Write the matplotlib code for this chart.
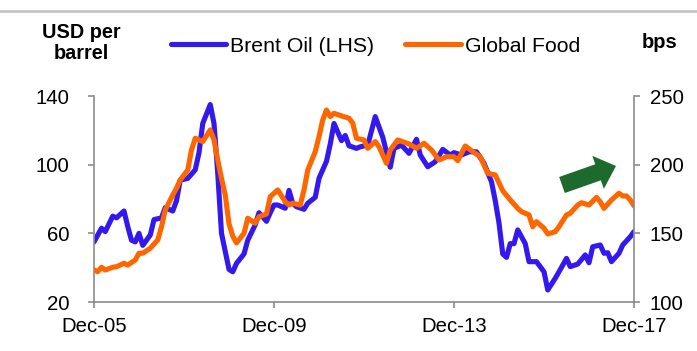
import matplotlib
matplotlib.use("Agg")
import matplotlib.pyplot as plt
from matplotlib.lines import Line2D
from matplotlib.patches import FancyArrow
from matplotlib.transforms import IdentityTransform

plt.rcParams['font.family'] = ['Liberation Sans', 'DejaVu Sans']

# months since Dec-05
oil_month = [0, 2, 3, 5, 6, 8, 9, 10, 11, 12,
             13, 15, 16, 18, 19, 21, 22, 23, 25, 27,
             28, 29, 31, 32, 33, 34, 36, 37, 38, 40,
             41, 43, 44, 46, 47, 48, 49, 51, 52, 53,
             54, 56, 57, 59, 60, 62, 63, 64, 66, 67,
             68, 70, 71, 73, 75, 77, 79, 80, 82, 84,
             86, 87, 89, 91, 93, 95, 96, 98, 100, 102,
             104, 106, 107, 108, 109, 110, 111, 112, 113, 115,
             116, 118, 120, 121, 123, 124, 126, 127, 129, 131,
             132, 133, 135, 136, 137, 138, 140, 141, 143, 144]
# Brent oil, USD per barrel (LHS)
oil_usd = [55, 63, 61, 70, 69, 73, 64, 56, 55, 60,
           53, 59, 68, 69, 75, 73, 79, 91, 92, 97,
           107, 124, 135, 124, 95, 60, 39, 37.6, 42.5, 48,
           56, 65, 72, 67, 72, 76.5, 76.5, 74.6, 85, 77.5,
           75.5, 74, 77.5, 81, 92, 102, 112, 124, 114, 117,
           111, 109.5, 110.4, 111.4, 128, 116, 98.5, 109.5, 111.4, 106.6,
           114.8, 105.6, 98.8, 101.7, 108.9, 105.6, 107, 105.6, 107.5, 107.5,
           100.8, 90, 79, 66, 48, 46, 54, 54, 62, 54,
           43.5, 43.5, 37.6, 27, 33.8, 37.6, 45.4, 40.6, 42.1, 47.4,
           42.9, 52.2, 53.2, 48.4, 48.7, 43.5, 48.4, 53.2, 58, 61]

food_month = [0, 1, 2, 3, 5, 6, 8, 9, 11, 12,
              13, 15, 17, 18, 19, 21, 22, 23, 25, 26,
              27, 29, 31, 32, 33, 34, 35, 36, 37, 38,
              40, 41, 43, 44, 46, 47, 49, 51, 52, 53,
              55, 56, 57, 59, 60, 61, 62, 63, 64, 66,
              68, 69, 70, 72, 73, 75, 76, 78, 79, 81,
              84, 86, 88, 90, 92, 94, 96, 97, 99, 101,
              103, 105, 107, 109, 111, 113, 114, 116, 117, 118,
              120, 121, 123, 124, 126, 127, 129, 130, 132, 134,
              135, 136, 138, 140, 141, 142, 143, 144]
# Global food, bps (RHS)
food_bps = [123.3, 122.1, 125.3, 123.3, 125.3, 125.7, 128.2, 126.9, 130.6, 135.5,
            135.5, 139.1, 145.2, 154.8, 167, 177.9, 182.8, 188.9, 196.1, 210.7,
            219.2, 216.8, 225.3, 218, 203.4, 190, 178, 157, 148, 143,
            150, 161, 157.3, 162.1, 164.1, 176.7, 181.6, 173, 170.6, 171.9,
            170.6, 181.6, 196.1, 209.5, 220.4, 232.6, 239.8, 235, 237.4, 235.5,
            233.8, 230.2, 219.2, 218, 211.9, 216.8, 213.1, 201, 210.7, 218,
            215.1, 211.9, 215.6, 210.7, 203.4, 205.8, 205.8, 202.9, 213.6, 209.5,
            205.8, 193.7, 192.5, 181, 174.3, 168.2, 165.8, 163.4, 154.8, 158.5,
            153.7, 149.5, 151.2, 154.8, 163.4, 164.6, 170.6, 172.3, 170.6, 176.2,
            173, 168.2, 174.3, 179.2, 177.2, 177.2, 174.3, 170]

x_ticks = [0, 48, 96, 144]
x_labels = ['Dec-05', 'Dec-09', 'Dec-13', 'Dec-17']
left_ticks = [20, 60, 100, 140]
right_ticks = [100, 150, 200, 250]

blue = '#3319ee'
orange = '#ff6600'
grey = '#8c8c8c'

W, H = 697, 351
fig = plt.figure(figsize=(W / 100, H / 100), dpi=100)
ax = fig.add_axes([94 / W, 1 - 302 / H, 540 / W, 206 / H])
ax2 = ax.twinx()

ax.plot(oil_month, oil_usd, color=blue, lw=3.7, solid_capstyle='round',
        solid_joinstyle='round', label='Brent Oil (LHS)')
ax2.plot(food_month, food_bps, color=orange, lw=3.7, solid_capstyle='round',
         solid_joinstyle='round', label='Global Food')

ax.set_xlim(0, 144)
ax.set_ylim(20, 140)
ax2.set_ylim(100, 250)
ax.set_xticks(x_ticks)
ax.set_xticklabels(x_labels)
ax.set_yticks(left_ticks)
ax2.set_yticks(right_ticks)

for a in (ax, ax2):
    for s in a.spines.values():
        s.set_color(grey)
        s.set_linewidth(1.2)
    a.spines['top'].set_visible(False)
ax.spines['right'].set_visible(False)
ax2.spines['left'].set_visible(False)
ax2.spines['bottom'].set_visible(False)

ax.tick_params(axis='both', colors=grey, labelcolor='black', labelsize=14.7,
               direction='out', length=4.5, width=1.2)
ax.tick_params(axis='y', pad=13)
ax.tick_params(axis='x', pad=6)
ax2.tick_params(axis='y', colors=grey, labelcolor='black', labelsize=14.7,
                direction='out', length=4.5, width=1.2, pad=7)

# axis titles
fig.text(81 / W, 1 - 43 / H, 'USD per\nbarrel', ha='center', va='center',
         fontsize=14.3, fontweight='bold', linespacing=1.15)
fig.text(660 / W, 1 - 42 / H, 'bps', ha='center', va='center',
         fontsize=14.5, fontweight='bold')

h1, l1 = ax.get_legend_handles_labels()
h2, l2 = ax2.get_legend_handles_labels()
fig.legend(h1 + h2, l1 + l2, loc='center left', bbox_to_anchor=(171 / W, 1 - 46 / H),
           ncol=2, frameon=False, fontsize=15.3, handlelength=2.6,
           handletextpad=0.2, columnspacing=1.45, borderaxespad=0, borderpad=0)

# top rule
fig.add_artist(Line2D([0, 1], [1 - 11 / H] * 2, transform=fig.transFigure,
                      color='#c4c4c4', lw=2))

# trend arrow
fig.add_artist(FancyArrow(562, H - 185, 54, 19, width=17, head_width=35,
                          head_length=19, length_includes_head=True,
                          color='#1e6a2c', lw=0, transform=IdentityTransform()))

fig.savefig('out.png', dpi=100)
